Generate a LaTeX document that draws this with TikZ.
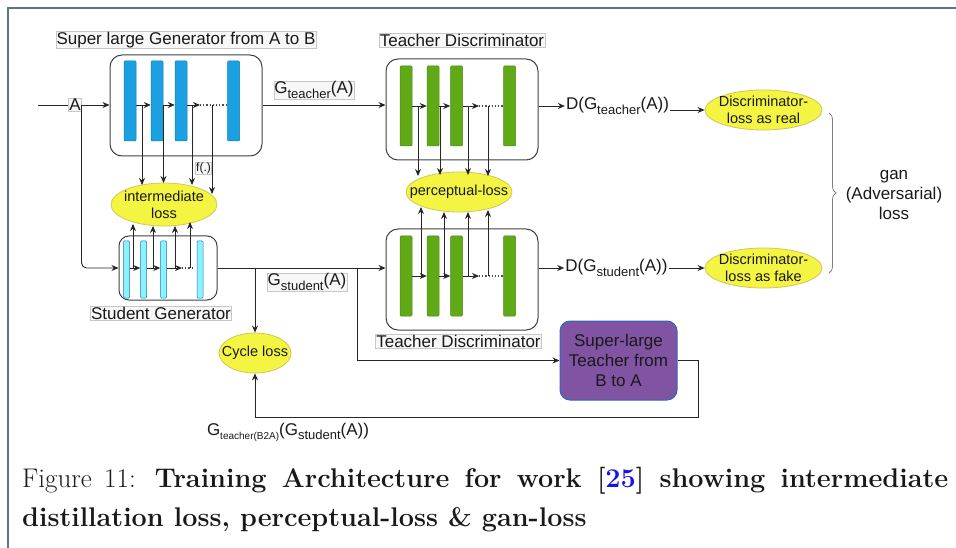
\documentclass[tikz,border=0pt]{standalone}
\usepackage{fontspec}
\newfontfamily\drawfont{Liberation Sans}
\usepackage{tikz}
\usetikzlibrary{arrows.meta, positioning, calc, shapes.geometric, decorations.pathreplacing}
\definecolor{lossyellow}{RGB}{244,244,66}
\definecolor{lossline}{RGB}{212,196,90}
\definecolor{teachblue}{RGB}{27,161,226}
\definecolor{teachblueln}{RGB}{16,120,185}
\definecolor{studcyan}{RGB}{140,242,255}
\definecolor{studcyanln}{RGB}{24,125,178}
\definecolor{discgreen}{RGB}{96,169,23}
\definecolor{discgreenln}{RGB}{70,140,15}
\definecolor{bigpurple}{RGB}{128,84,162}
\definecolor{bigpurpleln}{RGB}{45,105,185}
\definecolor{framegray}{RGB}{88,116,152}
\definecolor{citeblue}{RGB}{20,20,235}
\newcommand{\lowtxt}[2][13]{\raisebox{-0.25em}{\fontsize{#1}{#1}\selectfont #2}}

\begin{document}
\begin{tikzpicture}[x=1pt, y=-1pt,
  every node/.style={font=\drawfont\fontsize{17}{20}\selectfont, text=black!90},
  net/.style={draw=black!75, line width=1pt, rounded corners=12pt, minimum width=152, minimum height=101},
  bar/.style={rounded corners=1pt, minimum width=12, minimum height=80, inner sep=0, line width=0.5pt},
  tbar/.style={bar, fill=teachblue, draw=teachblueln},
  sbar/.style={bar, fill=studcyan, draw=studcyanln, minimum width=6, minimum height=57},
  dbar/.style={bar, fill=discgreen, draw=discgreenln},
  loss/.style={ellipse, draw=lossline, fill=lossyellow, line width=0.8pt, inner sep=0},
  losstext/.style={align=center, inner sep=0, font=\drawfont\fontsize{14.5}{17}\selectfont},
  tag/.style={fill=black!3, draw=black!22, line width=0.5pt, inner sep=0.6pt},
  arr/.style={-{Stealth[length=7pt,width=6pt]}, line width=0.9pt, draw=black!85},
  ln/.style={line width=0.9pt, draw=black!85},
  dotline/.style={dotted, line width=1.2pt, draw=black!70}]
\useasboundingbox (0,0) rectangle (956,548);
% page frame
\draw[framegray, line width=1.6pt] (8,548) -- (8,8) -- (956,8);

% Super large generator (teacher, A to B)
\node[tag] (tglabel) at (186,40) {Super large Generator from A to B};
\node[net] (tg) at (186,105.5) {};
\foreach \n/\x in {1/130,2/157,3/181,4/233.5} \node[tbar] (tg\n) at (\x,101) {};
\coordinate (tgrow) at (0,105);
\coordinate (tgdots) at (200,105);
\draw[arr] (tg1.east |- tgrow) -- (tg2.west |- tgrow);
\draw[arr] (tg2.east |- tgrow) -- (tg3.west |- tgrow);
\draw[arr] (tg3.east |- tgrow) -- (tgdots);
\draw[dotline] (tgdots) -- (tg4.west |- tgrow);

% input A
\coordinate (inA) at (38,105);
\node[tag] (A) at (75,105) {A};
\draw[ln] (inA) -- (A);
\draw[arr] (A.east) -- (tg.west |- A.east);

% student generator
\node[net, rounded corners=10pt, minimum width=98, minimum height=64] (sg) at (168,268) {};
\foreach \n/\x in {1/126.5,2/143.5,3/163.5,4/200} \node[sbar] (sg\n) at (\x,269.5) {};
\coordinate (sgrow) at (0,268);
\coordinate (sgdots) at (182,268);
\draw[arr] (sg1.east |- sgrow) -- (sg2.west |- sgrow);
\draw[arr] (sg2.east |- sgrow) -- (sg3.west |- sgrow);
\draw[arr] (sg3.east |- sgrow) -- (sgdots);
\draw[dotline] (sgdots) -- (192,268);
\node[tag] (sglabel) at (161,313) {Student Generator};
\draw[arr, rounded corners=5pt] (A.east) |- (sg.west);

% intermediate loss
\node[loss, minimum width=106, minimum height=43] (il) at (164,204.5) {};
\node[losstext] (iltext) at (il) {intermediate\\loss};
\foreach \x/\y in {142/185, 163.5/183, 192/185, 212/194} \draw[arr] (\x,105) -- (\x,\y);
\foreach \x/\y in {133/224, 153/226, 175/226, 190/222} \draw[arr] (\x,268) -- (\x,\y);
\node[tag, font=\drawfont\fontsize{12}{14}\selectfont] (fdot) at (203.5,168) {f(.)};

% teacher discriminator on teacher output
\node[tag] (tdrlabel) at (462,40) {Teacher Discriminator};
\node[net] (tdr) at (462,109.5) {};
\foreach \n/\x in {1/406,2/433,3/456.5,4/509.5} \node[dbar] (tdr\n) at (\x,106) {};
\coordinate (tdrdots) at (479,106);
\draw[arr] (tdr1.east) -- (tdr2.west);
\draw[arr] (tdr2.east) -- (tdr3.west);
\draw[arr] (tdr3.east) -- (tdrdots);
\draw[dotline] (tdrdots) -- (tdr4.west);
\draw[arr] (tg.east |- tgrow) -- (tdr.west |- tgrow);
\node[tag] (gteach) at (314,90) {G\lowtxt{teacher}(A)};

% teacher discriminator on student output
\node[net] (tdf) at (462,279.5) {};
\foreach \n/\x in {1/406,2/433,3/456.5,4/509.5} \node[dbar] (tdf\n) at (\x,276) {};
\coordinate (tdfdots) at (479,276);
\draw[arr] (tdf1.east) -- (tdf2.west);
\draw[arr] (tdf2.east) -- (tdf3.west);
\draw[arr] (tdf3.east) -- (tdfdots);
\draw[dotline] (tdfdots) -- (tdf4.west);
\draw[arr] (sg.east) -- (tdf.west |- sg.east);
\node[tag] (gstud) at (307,282) {G\lowtxt{student}(A)};
\node[tag] (tdflabel) at (458.5,341) {Teacher Discriminator};

% perceptual loss
\node[loss, minimum width=106, minimum height=40] (pl) at (459,192) {};
\node[losstext] (pltext) at (pl) {perceptual-loss};
\foreach \x/\y in {418/176, 440/175, 468/175, 488/176} \draw[arr] (\x,106) -- (\x,\y);
\foreach \x/\y in {421/207, 444/212, 468/212, 488/210} \draw[arr] (\x,276) -- (\x,\y);

% discriminator outputs and gan loss
\node[inner sep=1pt] (dt) at (617.5,106) {D(G\lowtxt{teacher}(A))};
\node[inner sep=1pt] (ds) at (616.5,268) {D(G\lowtxt{student}(A))};
\node[loss, minimum width=117, minimum height=40] (dre) at (763.5,110) {};
\node[losstext] (dretext) at (dre) {Discriminator-\\loss as real};
\node[loss, minimum width=117, minimum height=40] (drf) at (763.5,268) {};
\node[losstext] (drftext) at (drf) {Discriminator-\\loss as fake};
\draw[arr] (tdr.east |- tdr4) -- (dt.west |- tdr4);
\draw[arr] (dt.east |- dre.west) -- (dre.west);
\draw[arr] (tdf.east |- sg.east) -- (ds.west |- sg.east);
\draw[arr] (ds.east |- drf.west) -- (drf.west);
\coordinate (bracetop) at (829,113);
\coordinate (bracebot) at (829,273);
\draw[decorate, decoration={brace, amplitude=7pt}, draw=black!50, line width=0.8pt] (bracetop) -- (bracebot);
\node[align=center] (gan) at (894,195) {gan\\(Adversarial)\\loss};

% cycle branch
\node[loss, minimum width=72, minimum height=40] (cl) at (255,353) {};
\node[losstext] (cltext) at (cl) {Cycle loss};
\node[rounded corners=10pt, fill=bigpurple, draw=bigpurpleln, line width=1pt, minimum width=117, minimum height=79, align=center, inner sep=0] (tb) at (618.5,360.5) {Super-large\\Teacher from\\B to A};
\coordinate (gsplit) at (cl.north |- sg.east);
\coordinate (psplit) at (357,268);
\coordinate (bcorner) at (698,417);
\draw[arr] (gsplit) -- (cl.north);
\draw[arr] (psplit) |- (tb.west);
\draw[arr] (tb.east) -| (bcorner) -| (cl.south);
\node (gcyc) at (288,432) {G\lowtxt[10]{teacher(B2A)}(G\lowtxt{student}(A))};

% caption
\node[anchor=base west, inner sep=0, font=\rmfamily\fontsize{27}{38}\selectfont] (cap1) at (22,487)
  {\makebox[926pt][s]{Figure 11: \textbf{Training Architecture for work [\textcolor{citeblue}{25}] showing intermediate}}};
\node[anchor=base west, inner sep=0, font=\rmfamily\fontsize{27}{38}\selectfont] (cap2) at (22,526)
  {\textbf{distillation loss, perceptual-loss \& gan-loss}};
\end{tikzpicture}
\end{document}
